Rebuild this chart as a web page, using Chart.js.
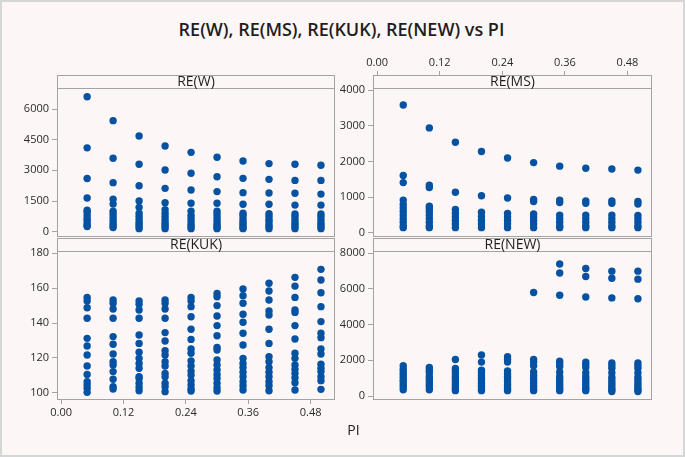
<!DOCTYPE html>
<html>
<head>
<meta charset="utf-8">
<title>RE vs PI</title>
<script src="https://cdn.jsdelivr.net/npm/chart.js@4.4.0/dist/chart.umd.min.js"></script>
<style>
  html, body { margin: 0; padding: 0; background: #fdf6f6; }
  #frame { position: relative; width: 685px; height: 457px; background: #fdf6f6; font-family: "Open Sans", sans-serif; overflow: hidden; }
  #frame canvas { position: absolute; left: 0; top: 0; }
  .edge { position: absolute; left: 0; top: 0; width: 685px; height: 457px; box-sizing: border-box; border: 2px solid #d5d7d7; pointer-events: none; }
  .title { position: absolute; left: 0; width: 683px; top: 17px; text-align: center; font-size: 18px; font-weight: 600; color: #1e1e1e; }
  .xlabel { position: absolute; left: 0; width: 707px; top: 420px; text-align: center; font-size: 14px; color: #222; }
</style>
</head>
<body>
<div id="frame">
  <div class="title">RE(W), RE(MS), RE(KUK), RE(NEW) vs PI</div>
  <canvas id="pW" width="685" height="457"></canvas>
  <canvas id="pMS" width="685" height="457"></canvas>
  <canvas id="pKUK" width="685" height="457"></canvas>
  <canvas id="pNEW" width="685" height="457"></canvas>
  <div class="xlabel">PI</div>
  <div class="edge"></div>
</div>
<script>
// PI levels (one column of points per level)
const piValues = [0.05, 0.10, 0.15, 0.20, 0.25, 0.30, 0.35, 0.40, 0.45, 0.50];

// values, top to bottom
const reW = [
  [6600, 4100, 2600, 1650, 1050, 950, 800, 650, 550, 400, 300, 250],
  [5430, 3590, 2400, 1590, 1350, 1000, 850, 700, 550, 400, 300, 200],
  [4680, 3300, 2250, 1500, 1190, 900, 750, 600, 450, 350, 250, 150],
  [4190, 3020, 2120, 1420, 1080, 900, 750, 600, 450, 350, 250, 150],
  [3880, 2860, 2040, 1390, 1000, 800, 650, 500, 350, 250, 150],
  [3640, 2690, 1960, 1390, 1000, 850, 700, 550, 400, 300, 200, 150],
  [3460, 2610, 1910, 1340, 900, 800, 650, 500, 400, 300, 200, 150],
  [3330, 2560, 1890, 1340, 880, 750, 600, 500, 350, 250, 150],
  [3300, 2510, 1880, 1300, 870, 750, 600, 450, 350, 250, 150],
  [3250, 2510, 1840, 1300, 870, 750, 600, 450, 350, 250, 150]
];
const reMS = [
  [3580, 1610, 1410, 920, 800, 700, 600, 500, 400, 300, 200, 150],
  [2940, 1340, 1270, 750, 680, 600, 500, 400, 300, 200, 150],
  [2540, 1140, 660, 550, 450, 350, 250, 150],
  [2280, 1040, 580, 460, 350, 250, 150],
  [2100, 980, 550, 450, 350, 250, 150],
  [1970, 940, 880, 530, 450, 350, 250, 150],
  [1870, 920, 850, 500, 400, 300, 200, 150],
  [1810, 900, 830, 500, 400, 300, 200, 150],
  [1790, 900, 830, 500, 400, 300, 200, 150],
  [1760, 880, 810, 490, 400, 300, 200, 150]
];
const reKUK = [
  [154.7, 152.6, 148.8, 142.7, 131.2, 126.8, 121.6, 115.3, 110.5, 106.3, 104.4, 102.5, 100.2],
  [153.2, 151.3, 148.0, 142.7, 132.2, 127.8, 122.2, 117.8, 115.9, 112.1, 107.7, 103.4, 102.1],
  [152.6, 150.7, 147.5, 142.7, 133.1, 128.3, 123.2, 119.7, 116.8, 114.0, 109.2, 108.2, 105.4, 103.1, 101.1],
  [153.2, 151.3, 148.0, 142.7, 134.5, 129.7, 124.1, 121.6, 117.8, 115.3, 111.1, 109.2, 105.4, 103.4, 100.6],
  [154.7, 152.6, 149.4, 143.6, 136.4, 130.6, 125.1, 122.6, 118.2, 115.3, 112.4, 110.1, 106.9, 104.4, 102.1, 101.0],
  [157.0, 155.1, 150.0, 144.0, 138.5, 132.7, 126.0, 124.5, 118.8, 115.9, 113.0, 110.5, 108.2, 105.4, 102.9, 101.0],
  [159.5, 155.7, 151.3, 145.0, 140.4, 134.1, 127.4, 119.7, 116.8, 114.4, 111.7, 109.2, 106.3, 104.0, 101.5],
  [162.8, 158.4, 153.2, 146.9, 144.6, 136.4, 128.3, 120.7, 117.8, 114.4, 111.7, 109.2, 106.3, 104.0, 101.1],
  [166.2, 161.2, 154.7, 147.5, 146.1, 138.5, 130.8, 122.6, 119.7, 115.9, 113.4, 111.1, 108.6, 105.7, 101.5],
  [170.8, 164.7, 157.4, 149.4, 140.8, 134.1, 131.6, 125.1, 122.2, 116.3, 114.0, 112.1, 109.2, 106.9, 101.9]
];
const reNEW = [
  [1700, 1500, 1350, 1200, 1050, 900, 800, 650, 500, 350],
  [1600, 1450, 1300, 1100, 950, 800, 650, 500, 350],
  [2050, 1550, 1400, 1250, 1100, 950, 800, 650, 500, 400, 300],
  [2300, 1900, 1450, 1300, 1150, 1000, 850, 700, 550, 400, 300],
  [2200, 2050, 1900, 1400, 1250, 1100, 950, 800, 650, 500, 400, 300],
  [5800, 2050, 1900, 1700, 1350, 1150, 1000, 850, 700, 550, 400, 300],
  [7400, 6900, 5650, 1950, 1800, 1650, 1350, 1100, 950, 800, 650, 500, 400, 300],
  [7150, 6700, 5550, 1900, 1750, 1600, 1300, 1100, 950, 800, 650, 500, 400, 300],
  [7000, 6600, 5500, 1850, 1700, 1550, 1300, 1050, 900, 750, 600, 450, 350, 250],
  [7000, 6550, 5450, 1850, 1700, 1550, 1300, 1050, 900, 750, 600, 450, 350, 250]
];

// tick labels
const piTicks = [0.00, 0.12, 0.24, 0.36, 0.48];
const wTicks = [0, 1500, 3000, 4500, 6000];
const msTicks = [0, 1000, 2000, 3000, 4000];
const kukTicks = [100, 120, 140, 160, 180];
const newTicks = [0, 2000, 4000, 6000, 8000];

const dotColor = "#0552a3";
const lineColor = "#a3a3a3";
const tickFont = { family: "'Open Sans', sans-serif", size: 11 };

// draws the panel box and the header strip with its label
const stripPlugin = {
  id: "strip",
  afterDraw(chart, args, opts) {
    const a = chart.chartArea;
    const c = chart.ctx;
    c.save();
    c.strokeStyle = lineColor;
    c.lineWidth = 1;
    c.strokeRect(Math.round(a.left) + 0.5, Math.round(a.top) + 0.5,
      Math.round(a.right - a.left) - 1, Math.round(a.bottom - a.top) - 1);
    c.beginPath();
    c.moveTo(a.left, Math.round(a.top) + 13.5);
    c.lineTo(a.right, Math.round(a.top) + 13.5);
    c.stroke();
    c.fillStyle = "#1e1e1e";
    c.font = "14px 'Open Sans', sans-serif";
    c.textAlign = "center";
    c.textBaseline = "middle";
    c.fillText(opts.text, (a.left + a.right) / 2, a.top + 7.5);
    c.restore();
  }
};

function toPoints(cols) {
  const pts = [];
  cols.forEach((col, i) => col.forEach(v => pts.push({ x: piValues[i], y: v })));
  return pts;
}

function makePanel(id, label, cols, yTicks, yMin, yMax, xPos, pad) {
  const xShown = xPos !== null;
  new Chart(document.getElementById(id).getContext("2d"), {
    type: "scatter",
    data: {
      datasets: [{
        data: toPoints(cols),
        backgroundColor: dotColor,
        borderColor: dotColor,
        borderWidth: 0,
        pointRadius: 3.7,
        pointHoverRadius: 3.7
      }]
    },
    options: {
      responsive: false,
      animation: false,
      events: [],
      layout: { padding: pad },
      plugins: {
        legend: { display: false },
        tooltip: { enabled: false },
        strip: { text: label }
      },
      scales: {
        x: {
          type: "linear",
          display: xShown,
          position: xPos || "bottom",
          min: -0.008,
          max: 0.527,
          afterBuildTicks: s => { s.ticks = piTicks.map(v => ({ value: v })); },
          afterFit: s => { s.height = xShown ? 20 : 0; },
          ticks: { font: tickFont, color: "#2a2a2a", padding: 2, maxRotation: 0, callback: v => v.toFixed(2) },
          grid: { drawOnChartArea: false, color: lineColor, tickLength: 4 },
          border: { display: false }
        },
        y: {
          type: "linear",
          min: yMin,
          max: yMax,
          afterBuildTicks: s => { s.ticks = yTicks.map(v => ({ value: v })); },
          afterFit: s => { s.width = 45; },
          ticks: { font: tickFont, color: "#2a2a2a", padding: 3, callback: v => String(v) },
          grid: { drawOnChartArea: false, color: lineColor, tickLength: 5 },
          border: { display: false }
        }
      }
    },
    plugins: [stripPlugin]
  });
}

// panel boxes: left panels x 57..335, right panels x 373..652; top row y 75..237, bottom row y 238..400
makePanel("pW", "RE(W)", reW, wTicks, -259, 7663, null,
  { left: 12, top: 75, right: 350, bottom: 220 });
makePanel("pMS", "RE(MS)", reMS, msTicks, -112, 4420, "top",
  { left: 328, top: 55, right: 33, bottom: 220 });
makePanel("pKUK", "RE(KUK)", reKUK, kukTicks, 95.8, 188.8, "bottom",
  { left: 12, top: 238, right: 350, bottom: 37 });
makePanel("pNEW", "RE(NEW)", reNEW, newTicks, -224, 8858, null,
  { left: 328, top: 238, right: 33, bottom: 57 });
</script>
</body>
</html>
